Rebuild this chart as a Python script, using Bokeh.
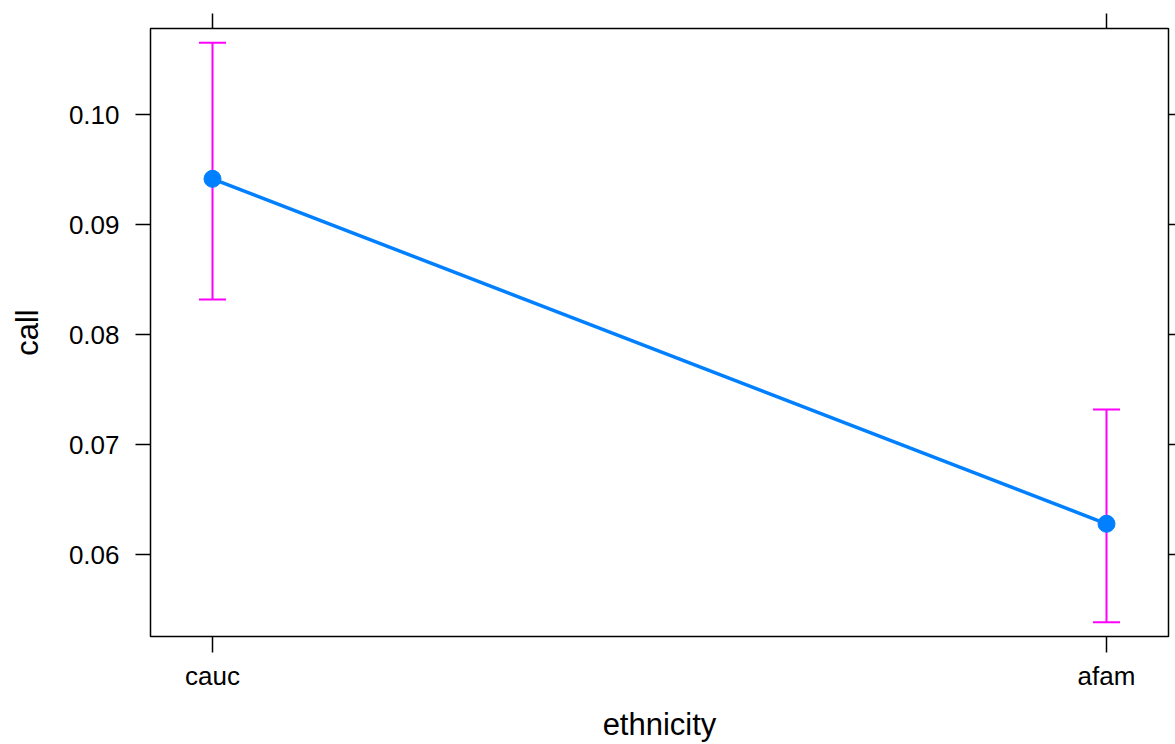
from bokeh.plotting import figure
from bokeh.models import (Range1d, LinearAxis, FixedTicker, ColumnDataSource,
                          Whisker, TeeHead, NumeralTickFormatter)
from bokeh.embed import file_html
from bokeh.resources import INLINE

# ---- data ----
categories = ["cauc", "afam"]
cat_pos = [1, 2]
call_fit = [0.09418, 0.06282]
call_lower = [0.08321, 0.05387]
call_upper = [0.10655, 0.07321]
y_ticks = [0.06, 0.07, 0.08, 0.09, 0.10]

FONT = "Liberation Sans"

p = figure(width=1175, height=744, output_backend="svg", toolbar_location=None,
           x_range=Range1d(0.93065, 2.06935), y_range=Range1d(0.05257, 0.10785),
           min_border_left=150, min_border_right=7, min_border_top=28,
           min_border_bottom=108)
p.background_fill_color = "white"
p.border_fill_color = "white"
p.grid.visible = False
p.outline_line_color = "black"
p.outline_line_width = 1.5

src = ColumnDataSource(dict(x=cat_pos, y=call_fit, lo=call_lower, hi=call_upper))

wh = Whisker(source=src, base="x", lower="lo", upper="hi",
             line_color="#ff00ff", line_width=2,
             upper_head=TeeHead(size=27, line_color="#ff00ff", line_width=2),
             lower_head=TeeHead(size=27, line_color="#ff00ff", line_width=2))
p.add_layout(wh)

p.line("x", "y", source=src, line_color="#0080ff", line_width=3.5)
p.scatter("x", "y", source=src, size=17, fill_color="#0080ff", line_color="#0080ff")

xticks = FixedTicker(ticks=cat_pos)
yticks = FixedTicker(ticks=y_ticks)
overrides = {c: lab for c, lab in zip(cat_pos, categories)}

def style(ax):
    ax.axis_line_color = None
    ax.major_tick_line_color = "black"
    ax.major_tick_line_width = 1.5
    ax.minor_tick_line_color = None
    ax.major_tick_in = 0
    ax.major_label_text_font = FONT
    ax.major_label_text_color = "black"
    ax.axis_label_text_font = FONT
    ax.axis_label_text_font_style = "normal"
    ax.axis_label_text_color = "black"

xa = p.xaxis[0]
xa.ticker = xticks
xa.major_label_overrides = overrides
style(xa)
xa.major_tick_out = 16
xa.major_label_standoff = 8
xa.major_label_text_font_size = "26px"
xa.axis_label = "ethnicity"
xa.axis_label_text_font_size = "31px"
xa.axis_label_standoff = 13

ya = p.yaxis[0]
ya.ticker = yticks
ya.formatter = NumeralTickFormatter(format="0.00")
style(ya)
ya.major_tick_out = 15
ya.major_label_standoff = 16
ya.major_label_text_font_size = "26px"
ya.axis_label = "call"
ya.axis_label_text_font_size = "31px"
ya.axis_label_standoff = 21

top = LinearAxis(ticker=xticks)
style(top)
top.major_tick_out = 15
top.major_label_overrides = {c: "" for c in cat_pos}
top.major_label_text_font_size = "4px"
top.major_label_standoff = 0
p.add_layout(top, "above")

right = LinearAxis(ticker=yticks)
style(right)
right.major_tick_out = 7
right.major_label_overrides = {t: "" for t in y_ticks}
right.major_label_text_font_size = "4px"
right.major_label_standoff = 0
p.add_layout(right, "right")

open("out.html", "w").write(file_html(p, INLINE))
